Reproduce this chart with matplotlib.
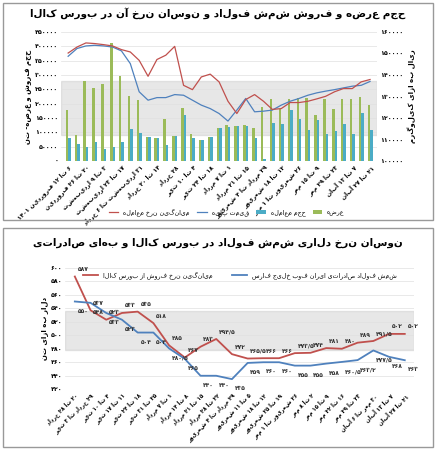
import re
import matplotlib
matplotlib.use("Agg")
import matplotlib.pyplot as plt
from matplotlib.patches import Rectangle
import numpy as np

plt.rcParams['font.family'] = ['DejaVu Sans', 'Noto Sans']

def fa(s):
    s = str(s).translate(str.maketrans("0123456789.", "۰۱۲۳۴۵۶۷۸۹/"))
    return s

def rtl(s):
    # visual order for right-to-left text: reverse, keeping digit runs in order
    parts = re.findall(r'[۰-۹0-9/,.]+|.', s)
    return ''.join(reversed(parts))

# ---------------- top chart data ----------------
top_labels = ["۶ تا ۱۲ فروردین ۱۴۰۱", "۲۰ تا ۲۶ فروردین", "۳ تا ۹ اردیبهشت", "۱۷ تا ۲۳ اردیبهشت",
              "۳۱ اردیبهشت تا ۶ خرداد", "۱۴ تا ۲۰ خرداد", "۲۸ خرداد", "۴ تا ۱۰ تیر", "۱۸ تا ۲۴ تیر",
              "۱ تا ۷ مرداد", "۱۵ تا ۲۱ مرداد", "۲۹ مرداد تا ۴ شهریور", "۱۲ تا ۱۸ شهریور",
              "۲۶ شهریور تا ۱ مهر", "۹ تا ۱۵ مهر", "۲۳ تا ۲۹ مهر", "۷ تا ۱۳ آبان", "۲۱ تا ۲۷ آبان"]
offer = [177, 90, 278, 255, 270, 412, 296, 226, 212, 85, 81, 146, 88, 186, 96, 73, 85, 114,
         125, 122, 125, 117, 189, 216, 183, 216, 220, 220, 160, 215, 183, 216, 216, 224, 197]
traded = [79, 58, 48, 67, 43, 50, 67, 111, 99, 85, 81, 56, 87, 159, 82, 73, 85, 114,
          118, 121, 121, 81, 6, 132, 128, 177, 148, 108, 143, 96, 104, 131, 96, 166, 108]
avg_price = [150.2, 153.0, 154.9, 154.6, 154.1, 153.5, 151.8, 150.7, 146.8, 139.4, 147.2, 149.2,
             153.3, 135.2, 133.2, 139.1, 140.4, 136.8, 127.8, 122.1, 128.6, 130.9, 127.8, 124.0,
             124.4, 127.2, 127.2, 127.8, 128.9, 130.1, 132.2, 133.7, 133.7, 136.8, 137.9]
base_price = [148.7, 152.3, 153.5, 153.8, 153.5, 153.0, 151.2, 145.3, 132.2, 128.3, 129.5, 129.5,
              130.9, 130.6, 128.3, 126.0, 124.4, 122.1, 118.6, 123.7, 129.1, 122.9, 123.2, 123.7,
              126.0, 127.8, 129.1, 130.6, 131.7, 132.5, 133.2, 134.0, 134.8, 135.2, 137.0]

# ---------------- bottom chart data ----------------
bot_labels = ["۲۰ تا ۲۸ خرداد", "۲۹ خرداد تا ۳ تیر", "۴ تا ۱۰ تیر", "۱۱ تا ۱۷ تیر", "۱۸ تا ۲۴ تیر",
              "۲۵ تا ۳۱ تیر", "۱ تا ۷ مرداد", "۸ تا ۱۴ مرداد", "۱۵ تا ۲۱ مرداد", "۲۲ تا ۲۸ مرداد",
              "۲۹ مرداد تا ۴ شهریور", "۵ تا ۱۱ شهریور", "۱۲ تا ۱۸ شهریور", "۱۹ تا ۲۵ شهریور",
              "۲۶ شهریور تا ۱ مهر", "۲ تا ۸ مهر", "۹ تا ۱۵ مهر", "۱۶ تا ۲۲ مهر", "۲۳ تا ۲۹ مهر",
              "۳۰ مهر تا ۶ آبان", "۷ تا ۱۳ آبان", "۲۱ تا ۲۷ آبان"]
bourse = [587, 537, 523, 533, 535, 518, 485, 467, 483, 494.5, 472, 465.5, 466, 466, 473.5,
          474, 481, 480, 489, 491.5, 502, 502]
export = [550, 548, 533, 523, 504, 504, 480.5, 465, 440, 440, 435, 459, 460, 460, 455,
          455, 458, 460.5, 463.2, 477.5, 468, 463]

fig = plt.figure(figsize=(4.36, 4.5), dpi=100)
fig.patch.set_facecolor('white')
for (y0, h) in [(3/450, 219/450), (230/450, 217/450)]:
    fig.add_artist(Rectangle((3/436, y0), 430/436, h, transform=fig.transFigure,
                             fill=False, ec='#999999', lw=1))

RED = '#c0504d'
BLUE = '#4f81bd'
GREEN = '#9bbb59'
TEAL = '#4bacc6'

# ----- top -----
ax = fig.add_axes([0.14, 0.642, 0.725, 0.287])
x = np.arange(len(offer))
w = 0.28
ax.bar(x - w/2, np.array(offer)*1000, w, color=GREEN, label=rtl('عرضه'))
ax.bar(x + w/2, np.array(traded)*1000, w, color=TEAL, label=rtl('حجم معامله'))
ax.set_ylim(0, 450000)
ax.set_yticks(range(0, 450001, 50000))
ax.set_yticklabels([fa(v) for v in range(0, 450001, 50000)], fontsize=4.5, fontweight='bold')
ax.set_xlim(-0.8, len(offer) - 0.2)
ax.set_xticks(x[::2])
ax.set_xticklabels([rtl(s) for s in top_labels], rotation=45, ha='right', fontsize=4.3,
                   fontweight='bold', rotation_mode='anchor')
ax.tick_params(length=0, pad=2)
ax.grid(axis='y', color='#e0e0e0', lw=0.5)
ax.set_axisbelow(True)
for s in ax.spines.values():
    s.set_visible(False)
ax.set_ylabel(rtl('حجم فروش و عرضه- تن'), fontsize=5, fontweight='bold', labelpad=2)
ax.axhspan(90000, 280000, color='#bbbbbb', alpha=0.35, zorder=0)
ax2 = ax.twinx()
ax2.plot(x, np.array(base_price)*1000, color=BLUE, lw=0.9, label=rtl('قیمت پایه'))
ax2.plot(x, np.array(avg_price)*1000, color=RED, lw=0.9, label=rtl('میانگین نرخ معامله'))
ax2.set_ylim(100000, 160000)
ax2.set_yticks(range(100000, 160001, 10000))
ax2.set_yticklabels([fa(v) for v in range(100000, 160001, 10000)], fontsize=4.5, fontweight='bold')
ax2.tick_params(length=0, pad=2)
for s in ax2.spines.values():
    s.set_visible(False)
ax2.set_ylabel(rtl('ریال به ازای کیلوگرم'), fontsize=5, fontweight='bold', labelpad=3)
h1, l1 = ax.get_legend_handles_labels()
h2, l2 = ax2.get_legend_handles_labels()
fig.legend(h2[::-1] + h1[::-1], l2[::-1] + l1[::-1], loc='center',
           bbox_to_anchor=(0.52, 1 - 212/450), bbox_transform=fig.transFigure,
           ncol=4, fontsize=4.5, frameon=False, handlelength=1.5, columnspacing=1.2)
fig.text(0.5, 1 - 13/450, rtl('حجم عرضه و فروش شمش فولاد و نوسان نرخ آن در بورس کالا'),
         ha='center', va='center', fontsize=7.5, fontweight='bold')

# ----- bottom -----
bx = fig.add_axes([0.15, 0.135, 0.80, 0.27])
xb = np.arange(len(bourse))
bx.axhspan(478, 536, color='#bbbbbb', alpha=0.35, zorder=0)
bx.plot(xb, bourse, color=RED, lw=1.3, label=rtl('میانگین نرخ فروش از بورس کالا'))
bx.plot(xb, export, color=BLUE, lw=1.3, label=rtl('شمش فولاد صادراتی ایران فوب خلیج فارس'))
for i, v in enumerate(bourse):
    bx.annotate(fa(v), (i, v), xytext=(2, 4), textcoords='offset points', fontsize=4.3,
                fontweight='bold', color='#333333')
for i, v in enumerate(export):
    bx.annotate(fa(v), (i, v), xytext=(2, -8), textcoords='offset points', fontsize=4.3,
                fontweight='bold', color='#333333')
bx.set_ylim(420, 600)
bx.set_yticks(range(420, 601, 20))
bx.set_yticklabels([fa(v) for v in range(420, 601, 20)], fontsize=4.5, fontweight='bold')
bx.set_xlim(-0.6, len(bourse) - 0.4)
bx.set_xticks(xb)
bx.set_xticklabels([rtl(s) for s in bot_labels], rotation=45, ha='right', fontsize=4,
                   fontweight='bold', rotation_mode='anchor')
bx.tick_params(length=0, pad=2)
bx.grid(axis='y', color='#e0e0e0', lw=0.5)
bx.set_axisbelow(True)
for s in bx.spines.values():
    s.set_visible(False)
bx.set_ylabel(rtl('دلار به ازای تن'), fontsize=5, fontweight='bold', labelpad=2)
hb, lb = bx.get_legend_handles_labels()
bx.legend(hb, lb, loc='upper center', bbox_to_anchor=(0.5, 1.02), ncol=2, fontsize=4.5,
          frameon=False, handlelength=2.5, columnspacing=3)
fig.text(0.5, 1 - 243/450, rtl('نوسان نرخ دلاری شمش فولاد در بورس کالا و بهای صادراتی'),
         ha='center', va='center', fontsize=7.5, fontweight='bold')

fig.savefig('out.png', dpi=100, facecolor='white')
